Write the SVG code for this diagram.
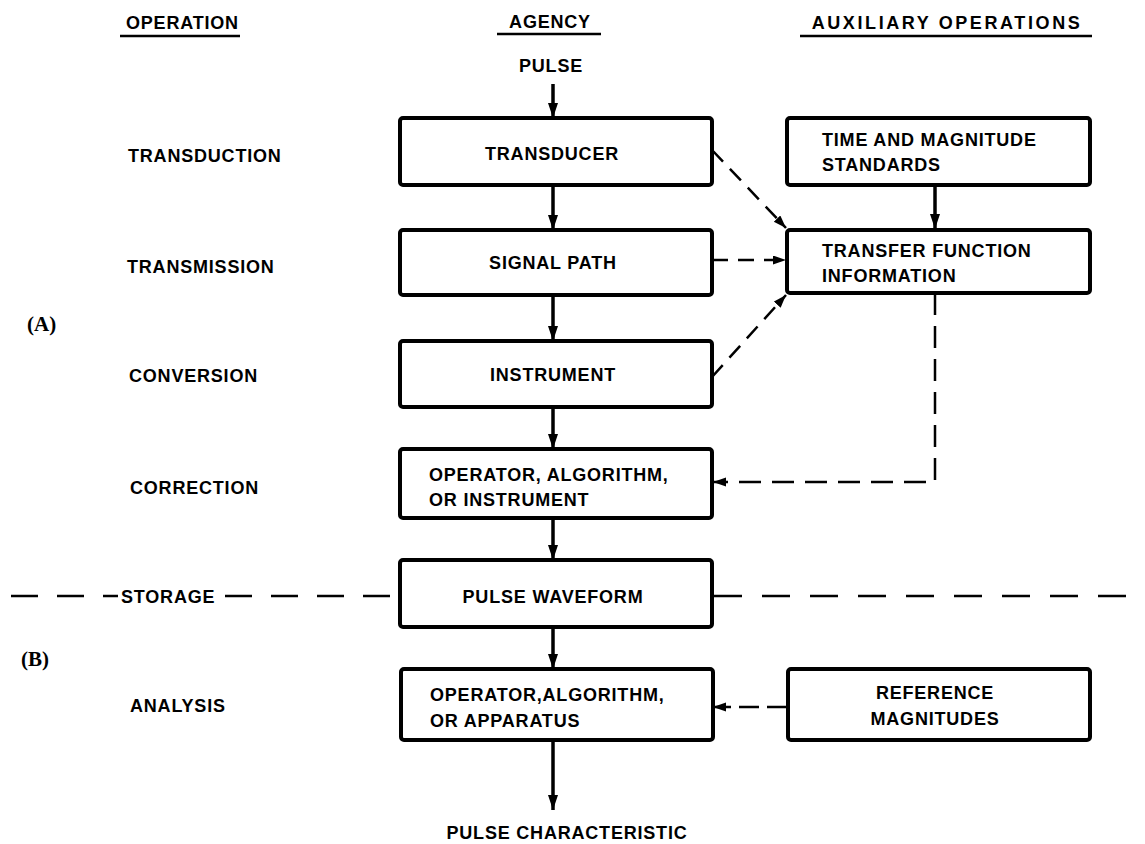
<svg xmlns="http://www.w3.org/2000/svg" width="1145" height="844" viewBox="0 0 1145 844">
<style>
text{font-family:"Liberation Sans",Arial,sans-serif;font-weight:bold;font-size:18px;letter-spacing:0.8px;fill:#000}
.c{text-anchor:middle}
.ser{font-family:"Liberation Serif","Times New Roman",serif;font-size:21px;letter-spacing:0}
.box{fill:#fff;stroke:#000;stroke-width:4}
.solid{stroke:#000;stroke-width:3.5;fill:none}
.dash{stroke:#000;stroke-width:2.5;fill:none;stroke-dasharray:16 10}
.dashv{stroke:#000;stroke-width:2.5;fill:none;stroke-dasharray:22 11}
.div{stroke:#000;stroke-width:2.5;fill:none;stroke-dasharray:28 20}
.ul{stroke:#000;stroke-width:2.5}
</style>
<defs>
<marker id="ah" markerUnits="userSpaceOnUse" markerWidth="16" markerHeight="12" refX="15" refY="5" orient="auto">
<path d="M0,0 L15,5 L0,10 z" fill="#000"/>
</marker>
<marker id="ahs" markerUnits="userSpaceOnUse" markerWidth="14" markerHeight="10" refX="13" refY="4.5" orient="auto">
<path d="M0,0 L13,4.5 L0,9 z" fill="#000"/>
</marker>
</defs>

<g id="headers">
<text x="126" y="29">OPERATION</text>
<line class="ul" x1="120" y1="36" x2="240" y2="36"/>
<text class="c" x="550" y="28">AGENCY</text>
<line class="ul" x1="497" y1="34" x2="601" y2="34"/>
<text class="c" x="947" y="29" style="letter-spacing:2.6px">AUXILIARY OPERATIONS</text>
<line class="ul" x1="800" y1="36" x2="1092" y2="36"/>
</g>

<g id="operation-labels">
<text x="128" y="162">TRANSDUCTION</text>
<text x="127" y="273">TRANSMISSION</text>
<text x="129" y="382">CONVERSION</text>
<text x="130" y="494">CORRECTION</text>
<text x="121" y="603">STORAGE</text>
<text x="130" y="712">ANALYSIS</text>
<text class="ser" x="27" y="331">(A)</text>
<text class="ser" x="21" y="666">(B)</text>
</g>

<g id="pulse-label"><text class="c" x="551" y="72">PULSE</text></g>
<g id="pulse-characteristic"><text class="c" x="567" y="839">PULSE CHARACTERISTIC</text></g>

<g id="connectors">
<line class="solid" x1="553" y1="84" x2="553" y2="118" marker-end="url(#ah)"/>
<line class="solid" x1="553" y1="185" x2="553" y2="230" marker-end="url(#ah)"/>
<line class="solid" x1="553" y1="295" x2="553" y2="341" marker-end="url(#ah)"/>
<line class="solid" x1="553" y1="407" x2="553" y2="449" marker-end="url(#ah)"/>
<line class="solid" x1="553" y1="518" x2="553" y2="560" marker-end="url(#ah)"/>
<line class="solid" x1="553" y1="627" x2="553" y2="669" marker-end="url(#ah)"/>
<line class="solid" x1="553" y1="740" x2="553" y2="810" marker-end="url(#ah)"/>
<line class="solid" x1="935" y1="185" x2="935" y2="229" marker-end="url(#ah)"/>
<line class="dash" x1="712" y1="150" x2="786" y2="228" marker-end="url(#ahs)"/>
<line class="dash" x1="712" y1="260" x2="786" y2="260" marker-end="url(#ahs)"/>
<line class="dash" x1="712" y1="377" x2="786" y2="295" marker-end="url(#ahs)"/>
<polyline class="dashv" points="935,293 935,482 713,482" marker-end="url(#ahs)"/>
<line class="dash" x1="787" y1="707" x2="713" y2="707" marker-end="url(#ahs)" style="stroke-dasharray:20 8"/>
<path class="div" d="M11,596 H118 M225,596 H400" style="stroke-dasharray:27 19"/>
<path class="div" d="M714,596 H1145"/>
</g>

<g id="transducer"><rect class="box" x="400" y="118" width="312" height="67" rx="3"/><text class="c" x="552" y="160">TRANSDUCER</text></g>
<g id="signal-path"><rect class="box" x="400" y="230" width="312" height="65" rx="3"/><text class="c" x="553" y="269">SIGNAL PATH</text></g>
<g id="instrument"><rect class="box" x="400" y="341" width="312" height="66" rx="3"/><text class="c" x="553" y="381">INSTRUMENT</text></g>
<g id="correction"><rect class="box" x="400" y="449" width="312" height="69" rx="3"/><text x="429" y="481">OPERATOR, ALGORITHM,</text><text x="429" y="506">OR INSTRUMENT</text></g>
<g id="pulse-waveform"><rect class="box" x="400" y="560" width="312" height="67" rx="3"/><text class="c" x="553" y="603">PULSE WAVEFORM</text></g>
<g id="analysis"><rect class="box" x="401" y="669" width="312" height="71" rx="3"/><text x="430" y="701">OPERATOR,ALGORITHM,</text><text x="430" y="727">OR APPARATUS</text></g>
<g id="standards"><rect class="box" x="787" y="118" width="303" height="67" rx="3"/><text x="822" y="146">TIME AND MAGNITUDE</text><text x="822" y="171">STANDARDS</text></g>
<g id="transfer-function"><rect class="box" x="787" y="230" width="303" height="63" rx="3"/><text x="822" y="257">TRANSFER FUNCTION</text><text x="822" y="282">INFORMATION</text></g>
<g id="reference"><rect class="box" x="788" y="669" width="302" height="71" rx="3"/><text class="c" x="935" y="699">REFERENCE</text><text class="c" x="935" y="725">MAGNITUDES</text></g>
</svg>
